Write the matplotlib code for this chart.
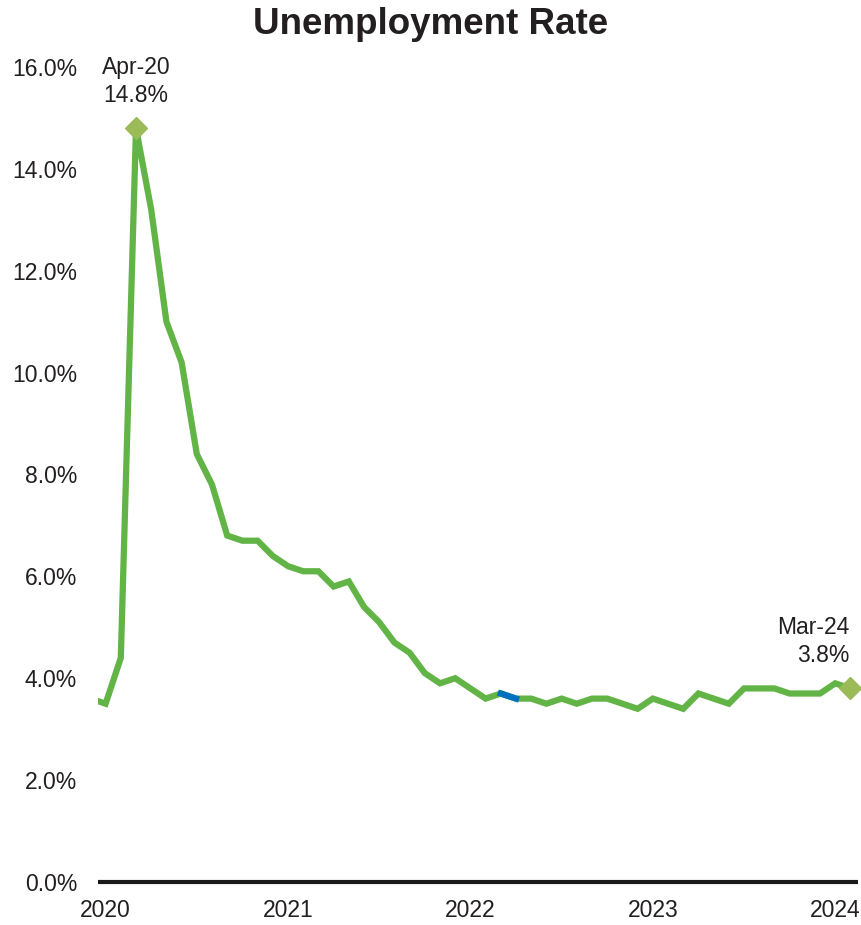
import matplotlib
matplotlib.use("Agg")
import matplotlib.pyplot as plt

plt.rcParams['font.family'] = ['Liberation Sans', 'DejaVu Sans']

# Monthly unemployment rate, Jan 2020 - Mar 2024 (%)
rate = [
    3.6, 3.5, 4.4, 14.8, 13.2, 11.0, 10.2, 8.4, 7.8, 6.8, 6.7, 6.7,   # 2020
    6.4, 6.2, 6.1, 6.1, 5.8, 5.9, 5.4, 5.1, 4.7, 4.5, 4.1, 3.9,       # 2021
    4.0, 3.8, 3.6, 3.7, 3.6, 3.6, 3.5, 3.6, 3.5, 3.6, 3.6, 3.5,       # 2022
    3.4, 3.6, 3.5, 3.4, 3.7, 3.6, 3.5, 3.8, 3.8, 3.8, 3.7, 3.7,       # 2023
    3.7, 3.9, 3.8,                                                    # 2024
]
years = ['2020', '2021', '2022', '2023', '2024']
yticks = [0, 2, 4, 6, 8, 10, 12, 14, 16]

# labelled points: (month index, label)
callouts = [(3, 'Apr-20'), (50, 'Mar-24')]
# short highlighted stretch of the series (Apr-May 2022)
highlight = (27, 28)

months = list(range(len(rate)))

green = '#62b446'
marker_green = '#9bbb59'
text_col = '#231f20'

fig = plt.figure(figsize=(8.62, 9.25), dpi=100)
ax = fig.add_axes([0.1137, 0.0465, 0.8817, 0.8811])

ax.plot(months, rate, color=green, lw=4.5, solid_joinstyle='miter', zorder=2)
h0, h1 = highlight
ax.plot(months[h0:h1 + 1], rate[h0:h1 + 1], color='#0070c0', lw=4.5, zorder=3)

for i, lab in callouts:
    ax.plot(months[i], rate[i], marker='D', ms=10.7, color=marker_green,
            mec=marker_green, clip_on=False, zorder=4)
    if i == callouts[0][0]:
        ax.annotate(f"{lab}\n{rate[i]:.1f}%", xy=(months[i], rate[i]),
                    xytext=(0, 15.5), textcoords='offset points',
                    ha='center', va='bottom', fontsize=16.5, color=text_col,
                    linespacing=1.28)
    else:
        ax.annotate(f"{lab}\n{rate[i]:.1f}%", xy=(months[i], rate[i]),
                    xytext=(-1, 15.5), textcoords='offset points',
                    ha='right', va='bottom', fontsize=16.5, color=text_col,
                    multialignment='right', linespacing=1.28)

ax.set_xlim(0.5, 50.5)
ax.set_ylim(0, 16)
ax.set_yticks(yticks)
ax.set_yticklabels([f"{v:.1f}%" for v in yticks])
ax.set_xticks([1 + 12 * k for k in range(len(years))])
ax.set_xticklabels(years)
ax.tick_params(axis='y', length=0, pad=15, labelsize=16.5, labelcolor=text_col)
ax.tick_params(axis='x', length=0, pad=12, labelsize=16.5, labelcolor=text_col)

for side in ['top', 'right', 'left']:
    ax.spines[side].set_visible(False)
ax.spines['bottom'].set_linewidth(3)
ax.spines['bottom'].set_color('#1a1a1a')
ax.spines['bottom'].set_capstyle('butt')

fig.text(0.5, 0.974, 'Unemployment Rate', ha='center', va='center',
         fontsize=26.5, fontweight='bold', color=text_col)

fig.savefig('out.png', dpi=100, facecolor='white')
